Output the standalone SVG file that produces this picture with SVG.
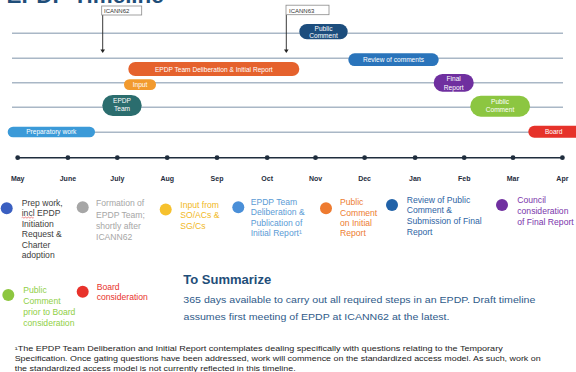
<svg xmlns="http://www.w3.org/2000/svg" width="576" height="372" viewBox="0 0 576 372">
<style>
text{font-family:"Liberation Sans",Arial,sans-serif}
.track{stroke:#a9b7c6;stroke-width:1.6;fill:none}
.pt{fill:#fff;font-size:6.6px;text-anchor:middle}
.mon{fill:#1f2d3d;font-size:7px;font-weight:bold;text-anchor:middle}
.lg{font-size:8.6px}
.tag{fill:#fff;stroke:#8a8a8a;stroke-width:0.8}
.tagt{fill:#333;font-size:6px}
.conn{stroke:#222;stroke-width:0.9;fill:none}
.fn{fill:#222;font-size:6.9px}
.body{fill:#2f5b8a;font-size:9.5px}
</style>
<defs>
<marker id="ah" viewBox="0 0 10 10" refX="5" refY="9" markerWidth="4" markerHeight="4" orient="auto-start-reverse" markerUnits="userSpaceOnUse"><path d="M0,0 L10,0 L5,10 Z" fill="#222" transform="rotate(-90 5 5)"/></marker>
</defs>
<rect width="576" height="372" fill="#fff"/>
<text x="6.5" y="2.7" font-size="22.4" font-weight="bold" fill="#1f4e79">EPDP Timeline</text>

<g id="tracks">
<line class="track" x1="12" y1="33.3" x2="563" y2="33.3"/>
<line class="track" x1="12" y1="58.3" x2="563" y2="58.3"/>
<line class="track" x1="12" y1="82.7" x2="563" y2="82.7"/>
<line class="track" x1="12" y1="107.3" x2="563" y2="107.3"/>
<line class="track" x1="12" y1="132.3" x2="563" y2="132.3"/>
</g>

<g id="connectors">
<path class="conn" d="M102.7,15 V50"/>
<path d="M100.4,49.5 L105,49.5 L102.7,53 Z" fill="#222"/>
<path class="conn" d="M286.3,15 V50"/>
<path d="M284,49.5 L288.6,49.5 L286.3,53 Z" fill="#222"/>
</g>

<g id="icann62">
<rect class="tag" x="101.7" y="6" width="40" height="9"/>
<text class="tagt" x="104" y="13">ICANN62</text>
</g>
<g id="icann63">
<rect class="tag" x="286" y="5.2" width="43" height="9.5"/>
<text class="tagt" x="289" y="12.5">ICANN63</text>
</g>

<g id="public-comment-1">
<rect x="299.3" y="24" width="48.4" height="15.3" rx="7.6" fill="#1c4d7d"/>
<text class="pt" x="323.5" y="30.6">Public</text>
<text class="pt" x="323.5" y="37.6">Comment</text>
</g>
<g id="deliberation">
<rect x="128.3" y="62" width="171" height="14" rx="7" fill="#e5622d"/>
<text class="pt" x="213.8" y="71.5" font-size="7">EPDP Team Deliberation &amp; Initial Report</text>
</g>
<g id="review">
<rect x="348.3" y="53.3" width="90.4" height="12.7" rx="6.3" fill="#2a74bb"/>
<text class="pt" x="393.5" y="62" font-size="7">Review of comments</text>
</g>
<g id="input">
<rect x="124" y="79.3" width="32" height="10.7" rx="5.3" fill="#f29a2e"/>
<text class="pt" x="140" y="87">Input</text>
</g>
<g id="final-report">
<rect x="433.7" y="74" width="40" height="17.7" rx="8.8" fill="#6f2f9f"/>
<text class="pt" x="453.7" y="81.4">Final</text>
<text class="pt" x="453.7" y="89.6">Report</text>
</g>
<g id="epdp-team">
<rect x="102.3" y="95" width="39.4" height="21" rx="10.5" fill="#2b6d6e"/>
<text class="pt" x="122" y="103">EPDP</text>
<text class="pt" x="122" y="110.6">Team</text>
</g>
<g id="public-comment-2">
<rect x="470.3" y="95.7" width="59.7" height="21" rx="10.5" fill="#8cc641"/>
<text class="pt" x="500" y="104" font-size="7">Public</text>
<text class="pt" x="500" y="112.3" font-size="7">Comment</text>
</g>
<g id="preparatory">
<rect x="7.7" y="126.7" width="87.3" height="10.6" rx="5.3" fill="#3b9ad8"/>
<text class="pt" x="51.3" y="134.3">Preparatory work</text>
</g>
<g id="board">
<rect x="528.3" y="125.7" width="60" height="12" rx="6" fill="#e6322a"/>
<text class="pt" x="553.7" y="134">Board</text>
</g>

<g id="axis">
<line x1="17.7" y1="157.7" x2="562.4" y2="157.7" stroke="#1f2d3d" stroke-width="1.5"/>
<g fill="#1f2d3d">
<circle cx="17.7" cy="157.7" r="2.4"/><circle cx="67.9" cy="157.7" r="2.4"/><circle cx="117.3" cy="157.7" r="2.4"/><circle cx="167.2" cy="157.7" r="2.4"/><circle cx="217" cy="157.7" r="2.4"/><circle cx="267.2" cy="157.7" r="2.4"/><circle cx="315.5" cy="157.7" r="2.4"/><circle cx="364.6" cy="157.7" r="2.4"/><circle cx="415.1" cy="157.7" r="2.4"/><circle cx="464.2" cy="157.7" r="2.4"/><circle cx="513" cy="157.7" r="2.4"/><circle cx="562.4" cy="157.7" r="2.4"/>
</g>
<text class="mon" x="17.7" y="180.5">May</text>
<text class="mon" x="67.9" y="180.5">June</text>
<text class="mon" x="117.3" y="180.5">July</text>
<text class="mon" x="167.2" y="180.5">Aug</text>
<text class="mon" x="217" y="180.5">Sep</text>
<text class="mon" x="267.2" y="180.5">Oct</text>
<text class="mon" x="315.5" y="180.5">Nov</text>
<text class="mon" x="364.6" y="180.5">Dec</text>
<text class="mon" x="415.1" y="180.5">Jan</text>
<text class="mon" x="464.2" y="180.5">Feb</text>
<text class="mon" x="513" y="180.5">Mar</text>
<text class="mon" x="562.4" y="180.5">Apr</text>
</g>

<g id="legend-prep">
<circle cx="6.7" cy="208.3" r="6" fill="#3a5fc1"/>
<text class="lg" fill="#404040"><tspan x="21.7" y="205.5">Prep work,</tspan><tspan x="21.7" y="216">incl EPDP</tspan><tspan x="21.7" y="226.5">Initiation</tspan><tspan x="21.7" y="237">Request &amp;</tspan><tspan x="21.7" y="247.5">Charter</tspan><tspan x="21.7" y="258">adoption</tspan></text>
<path d="M21.7,217.6 q0.75,-1 1.5,0 t1.5,0 t1.5,0 t1.5,0 t1.5,0 t1.5,0 t1.5,0 t1.5,0" stroke="#e03030" stroke-width="0.6" fill="none"/>
</g>
<g id="legend-formation">
<circle cx="82.7" cy="207.3" r="6" fill="#a6a6a6"/>
<text class="lg" fill="#a6a6a6"><tspan x="96" y="205.5">Formation of</tspan><tspan x="96" y="217.5">EPDP Team;</tspan><tspan x="96" y="228.5">shortly after</tspan><tspan x="96" y="239.5">ICANN62</tspan></text>
</g>
<g id="legend-input">
<circle cx="165.7" cy="209.5" r="6" fill="#f6c12d"/>
<text class="lg" fill="#f1b824"><tspan x="180.3" y="207.8">Input from</tspan><tspan x="180.3" y="218">SO/ACs &amp;</tspan><tspan x="180.3" y="228.8">SG/Cs</tspan></text>
</g>
<g id="legend-deliberation">
<circle cx="238.3" cy="207.3" r="6" fill="#4a8fd8"/>
<text class="lg" fill="#5b9bd5"><tspan x="250.7" y="204.5">EPDP Team</tspan><tspan x="250.7" y="215">Deliberation &amp;</tspan><tspan x="250.7" y="225.5">Publication of</tspan><tspan x="250.7" y="235.5">Initial Report¹</tspan></text>
</g>
<g id="legend-public-comment">
<circle cx="326" cy="208.3" r="6" fill="#ee7b30"/>
<text class="lg" fill="#ed7d31"><tspan x="340" y="204.5">Public</tspan><tspan x="340" y="215.5">Comment</tspan><tspan x="340" y="226">on Initial</tspan><tspan x="340" y="236">Report</tspan></text>
</g>
<g id="legend-review">
<circle cx="392" cy="205" r="6" fill="#2162a8"/>
<text class="lg" fill="#2e64a4"><tspan x="406.7" y="202.5">Review of Public</tspan><tspan x="406.7" y="213.3">Comment &amp;</tspan><tspan x="406.7" y="224">Submission of Final</tspan><tspan x="406.7" y="234.5">Report</tspan></text>
</g>
<g id="legend-council">
<circle cx="502" cy="205" r="6" fill="#7030a0"/>
<text class="lg" fill="#7a35ab"><tspan x="517.3" y="202.7">Council</tspan><tspan x="517.3" y="213.5">consideration</tspan><tspan x="517.3" y="224.5">of Final Report</tspan></text>
</g>
<g id="legend-public-comment-board">
<circle cx="8.3" cy="295" r="6" fill="#8dc63f"/>
<text class="lg" fill="#8fcf45"><tspan x="23.3" y="293">Public</tspan><tspan x="23.3" y="303.5">Comment</tspan><tspan x="23.3" y="314.5">prior to Board</tspan><tspan x="23.3" y="325.5">consideration</tspan></text>
</g>
<g id="legend-board">
<circle cx="82.7" cy="291.7" r="6" fill="#e8322b"/>
<text class="lg" fill="#e8322b"><tspan x="96.7" y="289.5">Board</tspan><tspan x="96.7" y="300">consideration</tspan></text>
</g>

<g id="summary">
<text x="183.3" y="283.5" font-size="13" font-weight="bold" fill="#1f4e79">To Summarize</text>
<text class="body" x="183.3" y="303" textLength="352" lengthAdjust="spacingAndGlyphs">365 days available to carry out all required steps in an EPDP. Draft timeline</text>
<text class="body" x="183.5" y="319.5" textLength="266" lengthAdjust="spacingAndGlyphs">assumes first meeting of EPDP at ICANN62 at the latest.</text>
</g>

<g id="footnote">
<text class="fn" x="14.7" y="351" textLength="488" lengthAdjust="spacingAndGlyphs">¹The EPDP Team Deliberation and Initial Report contemplates dealing specifically with questions relating to the Temporary</text>
<text class="fn" x="14.7" y="361" textLength="526" lengthAdjust="spacingAndGlyphs">Specification. Once gating questions have been addressed, work will commence on the standardized access model.  As such, work on</text>
<text class="fn" x="14.7" y="371" textLength="281" lengthAdjust="spacingAndGlyphs">the standardized access model is not currently reflected in this timeline.</text>
</g>
</svg>
